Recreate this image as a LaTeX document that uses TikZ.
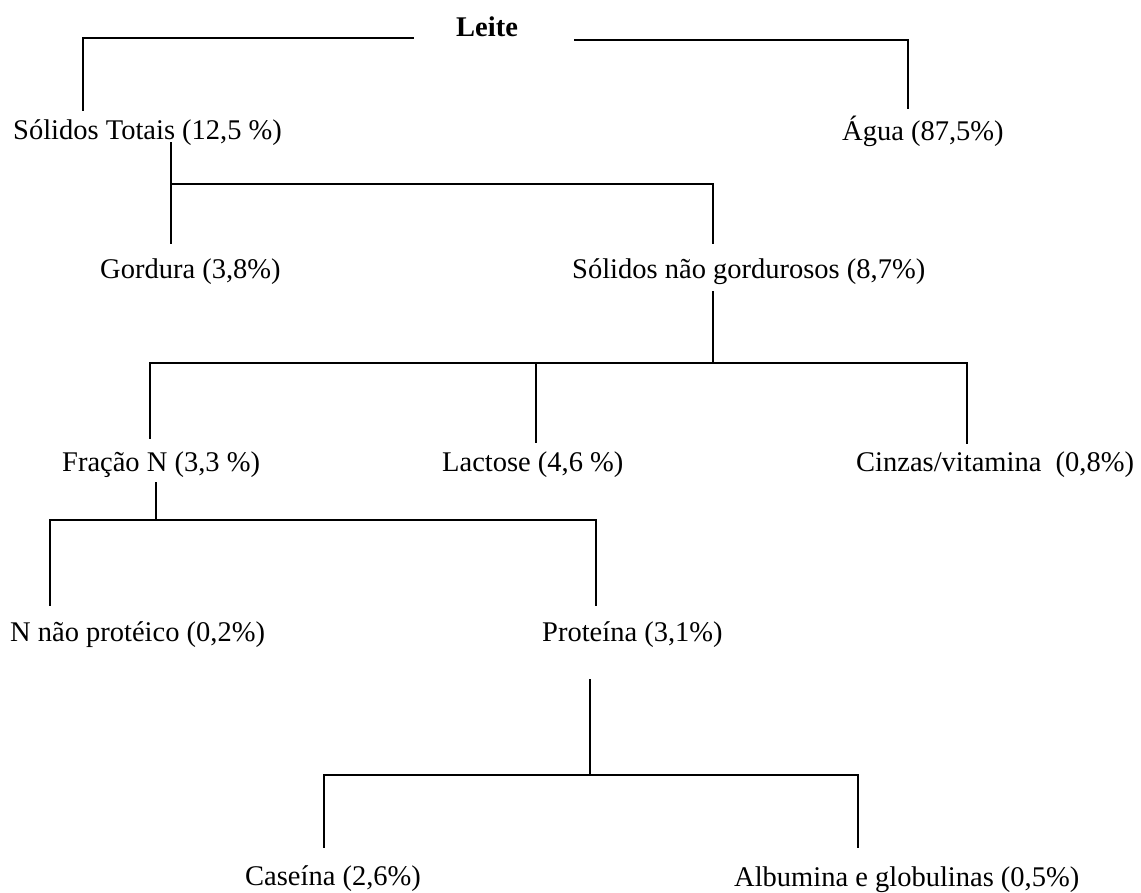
\documentclass[tikz,border=0pt]{standalone}
\usepackage{fontspec}
\setmainfont{Liberation Serif}
\begin{document}
\begin{tikzpicture}[x=1pt,y=-1pt,
  lbl/.style={anchor=base west,inner sep=0pt,font=\fontsize{28.5}{32}\selectfont},
  conn/.style={line width=1.5pt,line cap=rect}]
\useasboundingbox[fill=white] (0,0) rectangle (1141,892);
% nodes
\node[anchor=base west,inner sep=0pt,font=\fontsize{28.5}{32}\selectfont\bfseries] (leite) at (456,36) {Leite};
\node[lbl] (st) at (13,139) {Sólidos Totais (12,5 \%)};
\node[lbl] (agua) at (842,140) {Água (87,5\%)};
\node[lbl] (gord) at (100,278) {Gordura (3,8\%)};
\node[lbl] (sng) at (572,278) {Sólidos não gordurosos (8,7\%)};
\node[lbl] (fn) at (62,471) {Fração N (3,3 \%)};
\node[lbl] (lac) at (442,471) {Lactose (4,6 \%)};
\node[lbl] (cinz) at (856,471) {Cinzas/vitamina\ \ (0,8\%)};
\node[lbl] (nnp) at (10,641) {N não protéico (0,2\%)};
\node[lbl] (prot) at (542,641) {Proteína (3,1\%)};
\node[lbl] (cas) at (245,885) {Caseína (2,6\%)};
\node[lbl] (alb) at (734,886) {Albumina e globulinas (0,5\%)};
% junction coordinates
\coordinate (l1a) at (413,38); \coordinate (l1b) at (83,110);
\coordinate (l2a) at (575,40); \coordinate (l2b) at (908,108);
\coordinate (s3a) at (171,143); \coordinate (j3) at (171,184);
\coordinate (e3a) at (171,243); \coordinate (e3b) at (713,243);
\coordinate (s4) at (713,292); \coordinate (j4) at (713,363);
\coordinate (e4a) at (150,438); \coordinate (e4b) at (536,442); \coordinate (e4c) at (967,443);
\coordinate (s5) at (156,483); \coordinate (j5) at (156,520);
\coordinate (e5a) at (50,605); \coordinate (e5b) at (596,605);
\coordinate (s6) at (590,680); \coordinate (j6) at (590,775);
\coordinate (e6a) at (324,847); \coordinate (e6b) at (858,847);
% connectors
\draw[conn] (l1a) -| (l1b);
\draw[conn] (l2a) -| (l2b);
\draw[conn] (s3a) -- (e3a);
\draw[conn] (j3) -| (e3b);
\draw[conn] (s4) -- (j4);
\draw[conn] (e4a) |- (j4) -| (e4c);
\draw[conn] (j4 -| e4b) -- (e4b);
\draw[conn] (s5) -- (j5);
\draw[conn] (e5a) |- (j5) -| (e5b);
\draw[conn] (s6) -- (j6);
\draw[conn] (e6a) |- (j6) -| (e6b);
\end{tikzpicture}
\end{document}
